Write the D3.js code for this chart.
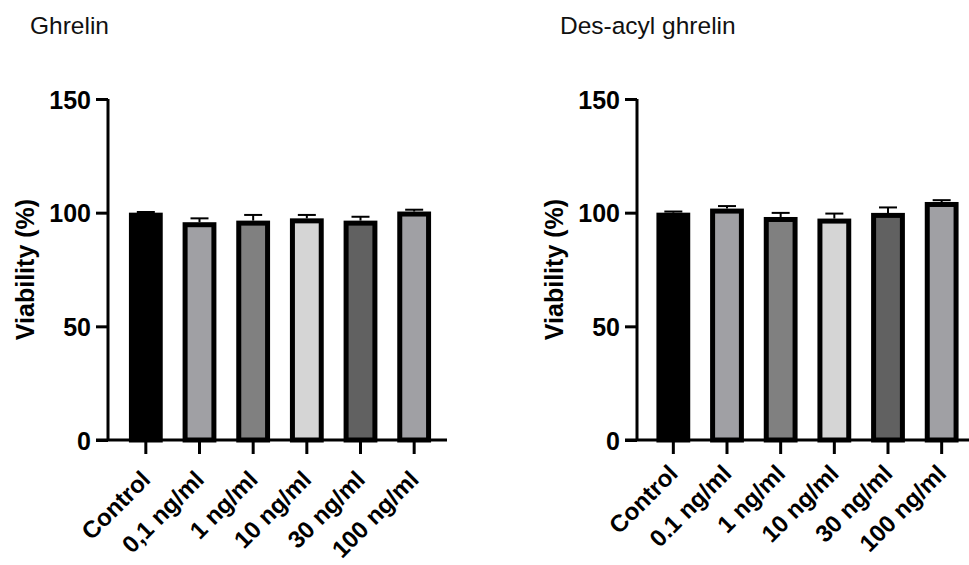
<!DOCTYPE html>
<html>
<head>
<meta charset="utf-8">
<script src="https://cdn.jsdelivr.net/npm/d3@7"></script>
<style>
  body { margin: 0; background: #fff; }
  svg text { font-family: "Liberation Sans", Arial, sans-serif; }
</style>
</head>
<body>
<svg id="chart" width="969" height="565"></svg>
<script>
// values (mean viability %, error = SEM)
const ghrelinLabels = ["Control", "0,1 ng/ml", "1 ng/ml", "10 ng/ml", "30 ng/ml", "100 ng/ml"];
const ghrelinMeans = [100, 95.8, 96.5, 97.5, 96.5, 100.5];
const ghrelinErr = [0.3, 1.7, 2.5, 1.5, 1.7, 0.8];

const desAcylLabels = ["Control", "0.1 ng/ml", "1 ng/ml", "10 ng/ml", "30 ng/ml", "100 ng/ml"];
const desAcylMeans = [100, 101.8, 98.1, 97.4, 99.9, 104.7];
const desAcylErr = [0.5, 1.1, 1.8, 2.2, 2.4, 0.8];

const yTicks = [0, 50, 100, 150];

const fills = ["#000000", "#a0a0a4", "#808080", "#d5d5d5", "#616161", "#a0a0a4"];

const svg = d3.select("#chart");

function drawPanel(opts) {
  const { title, labels, means, errs, axisX, bandStart, bandEnd, axisEnd, titleX, labelDy } = opts;
  const g = svg.append("g");

  const y = d3.scaleLinear().domain([0, 150]).range([440, 99]);
  const x = d3.scaleBand()
    .domain(labels)
    .range([bandStart, bandEnd])
    .paddingInner(0.37)
    .paddingOuter(0.185);
  const color = d3.scaleOrdinal().domain(labels).range(fills);

  g.append("text")
    .attr("x", titleX)
    .attr("y", 34)
    .attr("font-size", 24.5)
    .attr("fill", "#111")
    .text(title);

  const sw = 5;
  const rows = labels.map((l, i) => ({ label: l, mean: means[i], err: errs[i] }));

  // bars
  g.selectAll("rect.bar")
    .data(rows)
    .join("rect")
    .attr("class", "bar")
    .attr("x", d => x(d.label) + sw / 2)
    .attr("width", x.bandwidth() - sw)
    .attr("y", d => y(d.mean) + sw / 2)
    .attr("height", d => y(0) - y(d.mean) - sw / 2)
    .attr("fill", d => color(d.label))
    .attr("stroke", "#000")
    .attr("stroke-width", sw);

  // error bars (upper only)
  const eb = g.selectAll("g.err")
    .data(rows)
    .join("g")
    .attr("class", "err")
    .attr("stroke", "#000")
    .attr("stroke-width", 2);
  eb.append("line")
    .attr("x1", d => x(d.label) + x.bandwidth() / 2)
    .attr("x2", d => x(d.label) + x.bandwidth() / 2)
    .attr("y1", d => y(d.mean))
    .attr("y2", d => y(d.mean + d.err));
  eb.append("line")
    .attr("x1", d => x(d.label) + x.bandwidth() / 2 - 9)
    .attr("x2", d => x(d.label) + x.bandwidth() / 2 + 9)
    .attr("y1", d => y(d.mean + d.err))
    .attr("y2", d => y(d.mean + d.err));

  // y axis
  const yAxis = g.append("g")
    .attr("transform", `translate(${axisX},0)`)
    .call(d3.axisLeft(y).tickValues(yTicks).tickSize(12).tickPadding(5).tickFormat(d3.format("d")));
  yAxis.selectAll("line, path").attr("stroke", "#000").attr("stroke-width", 3);
  yAxis.select("path").attr("d", `M0,${y(150)}V${y(0)}`);
  yAxis.selectAll("text")
    .attr("font-size", 25)
    .attr("font-weight", "bold")
    .attr("fill", "#000")
    .attr("dy", "0.36em");

  // x axis
  const xAxis = g.append("g")
    .attr("transform", `translate(0,${y(0)})`)
    .call(d3.axisBottom(x).tickSize(14).tickSizeOuter(0));
  xAxis.select("path")
    .attr("d", `M${axisX - 12},0H${axisEnd}`)
    .attr("stroke", "#000")
    .attr("stroke-width", 3);
  xAxis.selectAll(".tick line").attr("stroke", "#000").attr("stroke-width", 3).attr("y1", 1);
  xAxis.selectAll(".tick text")
    .attr("font-size", 24)
    .attr("font-weight", "bold")
    .attr("fill", "#000")
    .attr("text-anchor", "end")
    .attr("dy", null)
    .attr("y", null)
    .attr("transform", `translate(6,${labelDy}) rotate(-45)`);

  // y axis title
  g.append("text")
    .attr("transform", `translate(${axisX - 74},${(y(0) + y(150)) / 2}) rotate(-90)`)
    .attr("text-anchor", "middle")
    .attr("font-size", 25)
    .attr("font-weight", "bold")
    .attr("fill", "#000")
    .text("Viability (%)");
}

drawPanel({
  title: "Ghrelin",
  labels: ghrelinLabels,
  means: ghrelinMeans,
  errs: ghrelinErr,
  axisX: 108,
  bandStart: 119,
  bandEnd: 441,
  axisEnd: 447,
  titleX: 30,
  labelDy: 41
});

drawPanel({
  title: "Des-acyl ghrelin",
  labels: desAcylLabels,
  means: desAcylMeans,
  errs: desAcylErr,
  axisX: 637,
  bandStart: 646.5,
  bandEnd: 968.5,
  axisEnd: 969,
  titleX: 560,
  labelDy: 35
});
</script>
</body>
</html>
